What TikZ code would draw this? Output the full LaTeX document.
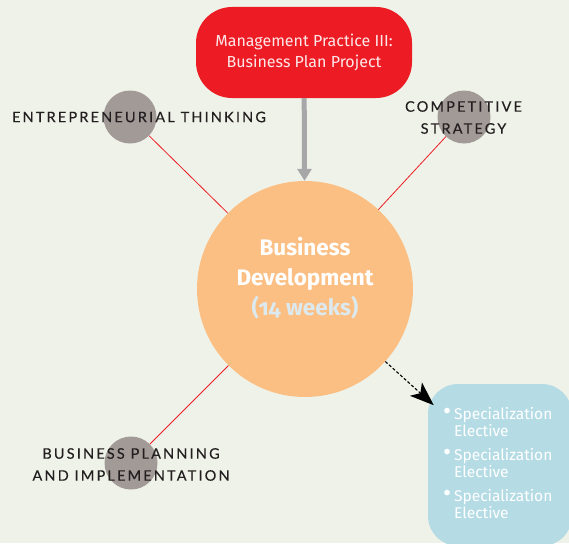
\documentclass[tikz,border=0pt]{standalone}
\usepackage{fontspec}
\setmainfont{Fira Sans}[Numbers=OldStyle]
\newfontfamily\capsfont{Lato}[LetterSpace=15,FakeBold=0.3]
\usetikzlibrary{arrows.meta}
\definecolor{bg}{HTML}{EFF2E8}
\definecolor{mred}{HTML}{ED1C24}
\definecolor{peach}{HTML}{FBBF84}
\definecolor{stone}{HTML}{A29A97}
\definecolor{sky}{HTML}{B5DCE5}
\definecolor{arrowgrey}{HTML}{A7A7A9}
\definecolor{paleblue}{HTML}{DCE9EE}
\definecolor{ink}{HTML}{231F20}
\newcommand{\bigbul}{\makebox[11pt][l]{\raisebox{-0.5pt}{\scalebox{1.6}{\textbullet}}}}
\tikzset{
  dot/.style={circle, fill=stone, minimum size=53pt, inner sep=0pt},
  caplabel/.style={font=\capsfont\fontsize{14.5}{22}\selectfont, text=ink, align=center, inner sep=0pt},
  spoke/.style={draw=mred, line width=0.8pt},
}
\begin{document}
\begin{tikzpicture}[x=1pt,y=-1pt]
\useasboundingbox[fill=bg] (0,0) rectangle (569,543);
\clip (0,0) rectangle (569,543);
% main circle
\node[circle, fill=peach, minimum size=216pt, inner sep=0pt] (main) at (305,289) {};
\node[font=\bfseries\fontsize{22.5}{30}\selectfont, text=white, align=center, inner sep=0pt]
  (mainl) at (305,278) {Business\\Development\\\textcolor{paleblue}{(14 weeks)}};
% top box
\node[rectangle, rounded corners=36pt, fill=mred, minimum width=216pt, minimum height=91pt,
      text=white!90!mred, font=\fontsize{16}{21}\selectfont, align=center]
  (mp) at (304,52.5) {Management Practice III:\\Business Plan Project};
% small circles
\node[dot] (ent) at (130,117) {};
\node[dot] (comp) at (464,117) {};
\node[dot] (plan) at (131,463) {};
% spokes
\draw[spoke] (ent) -- (main);
\draw[spoke] (comp) -- (main);
\draw[spoke] (plan) -- (main);
% labels
\node[caplabel] (entl) at (139,117) {ENTREPRENEURIAL THINKING};
\node[caplabel] (compl) at (463.5,117.5) {COMPETITIVE\\STRATEGY};
\node[caplabel] (planl) at (131,464.5) {BUSINESS PLANNING\\AND IMPLEMENTATION};
% grey arrow
\draw[draw=arrowgrey, line width=5pt, -{Triangle[length=12pt,width=14pt]}] (mp) -- (main);
% specialization box
\node[rectangle, rounded corners=30pt, fill=sky, minimum width=144pt, minimum height=162pt,
      inner sep=0pt] (spec) at (500,465) {};
\node[text=white, font=\fontsize{15.5}{18}\selectfont, align=left, inner sep=0pt, anchor=north west]
  (specl) at (443,407) {%
  \bigbul Specialization\\[-1pt]\hspace*{11pt}Elective\\[6pt]
  \bigbul Specialization\\[-1pt]\hspace*{11pt}Elective\\[6pt]
  \bigbul Specialization\\[-1pt]\hspace*{11pt}Elective};
\draw[line width=1.1pt, dash pattern=on 3pt off 2pt, -{Stealth[length=24pt,width=18pt,inset=6pt,line width=0pt]}, shorten >=-8pt] (main) -- (spec);
\end{tikzpicture}
\end{document}
